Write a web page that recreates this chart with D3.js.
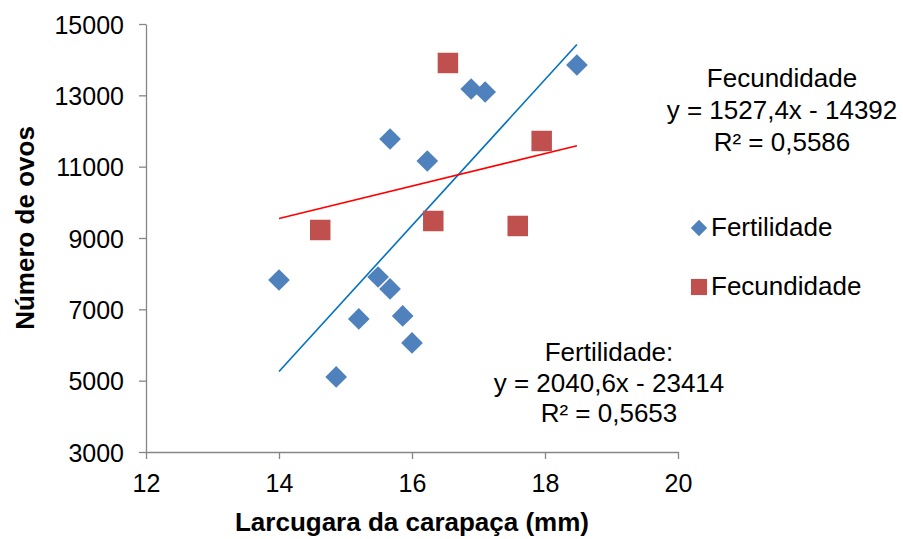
<!DOCTYPE html>
<html>
<head>
<meta charset="utf-8">
<script src="https://cdn.jsdelivr.net/npm/d3@7"></script>
<style>
  body { margin: 0; background: #fff; }
  svg text { font-family: "Liberation Sans", Arial, sans-serif; fill: #000; }
</style>
</head>
<body>
<svg width="903" height="539"></svg>
<script>
// carapace width (mm) and egg counts
const fertX = [14.0, 14.86, 15.2, 15.49, 15.67, 15.67, 15.86, 16.0, 16.23, 16.89, 17.1, 18.48];
const fertY = [7823, 5104, 6730, 7907, 7571, 11776, 6814, 6057, 11159, 13178, 13094, 13850];
const fecX = [14.62, 16.54, 16.32, 17.59, 17.95];
const fecY = [9225, 13907, 9477, 9337, 11720];

const xTicks = [12, 14, 16, 18, 20];
const yTicks = [3000, 5000, 7000, 9000, 11000, 13000, 15000];

const fecLabel = ['Fecundidade', 'y = 1527,4x - 14392', 'R² = 0,5586'];
const fertLabel = ['Fertilidade:', 'y = 2040,6x - 23414', 'R² = 0,5653'];

const svg = d3.select('svg'),
    margin = {top: 24, right: 225, bottom: 87, left: 146},
    width = +svg.attr('width'),
    height = +svg.attr('height');

const x = d3.scaleLinear().domain([12, 20]).range([margin.left, width - margin.right]);
const y = d3.scaleLinear().domain([3000, 15000]).range([height - margin.bottom, margin.top]);

const axisColor = '#868686';

// axes
const gx = svg.append('g')
    .attr('transform', 'translate(0,' + y(3000) + ')')
    .call(d3.axisBottom(x).tickValues(xTicks).tickSize(7).tickPadding(15).tickSizeOuter(0));
const gy = svg.append('g')
    .attr('transform', 'translate(' + x(12) + ',0)')
    .call(d3.axisLeft(y).tickValues(yTicks).tickSize(7).tickPadding(15).tickSizeOuter(0).tickFormat(d3.format('d')));

[gx, gy].forEach(function (g) {
    g.select('.domain').attr('stroke', axisColor).attr('stroke-width', 1.3);
    g.selectAll('.tick line').attr('stroke', axisColor).attr('stroke-width', 1.3);
    g.selectAll('.tick text')
        .style('font-size', '25px')
        .style('font-family', '"Liberation Sans", Arial, sans-serif')
        .attr('fill', '#000');
});
gy.selectAll('.tick text').attr('dy', '0.36em');

// axis titles
svg.append('text')
    .attr('x', (x(12) + x(20)) / 2)
    .attr('y', 531)
    .attr('text-anchor', 'middle')
    .style('font-size', '26px')
    .style('font-weight', 'bold')
    .text('Larcugara da carapaça (mm)');

svg.append('text')
    .attr('transform', 'translate(34,228) rotate(-90)')
    .attr('text-anchor', 'middle')
    .style('font-size', '26px')
    .style('font-weight', 'bold')
    .text('Número de ovos');

// least squares fit over the full x extent of the data
function fit(xs, ys) {
    const mx = d3.mean(xs), my = d3.mean(ys);
    let sxy = 0, sxx = 0;
    xs.forEach(function (v, i) {
        sxy += (v - mx) * (ys[i] - my);
        sxx += (v - mx) * (v - mx);
    });
    const b = sxy / sxx;
    return {b: b, a: my - b * mx};
}

const ext = d3.extent(fertX.concat(fecX));
const line = d3.line().x(function (d) { return x(d[0]); }).y(function (d) { return y(d[1]); });

[[fertX, fertY, '#0070C0'], [fecX, fecY, '#FF0000']].forEach(function (s) {
    const f = fit(s[0], s[1]);
    svg.append('path')
        .datum(ext.map(function (v) { return [v, f.a + f.b * v]; }))
        .attr('d', line)
        .attr('fill', 'none')
        .attr('stroke', s[2])
        .attr('stroke-width', 1.6);
});

// markers
const diamond = d3.symbol().type(d3.symbolDiamond2).size(300);
const square = d3.symbol().type(d3.symbolSquare).size(420);

svg.append('g').selectAll('path')
    .data(fecX.map(function (v, i) { return [v, fecY[i]]; }))
    .enter().append('path')
    .attr('d', square)
    .attr('transform', function (d) { return 'translate(' + x(d[0]) + ',' + y(d[1]) + ')'; })
    .attr('fill', '#C0504D');

svg.append('g').selectAll('path')
    .data(fertX.map(function (v, i) { return [v, fertY[i]]; }))
    .enter().append('path')
    .attr('d', diamond)
    .attr('transform', function (d) { return 'translate(' + x(d[0]) + ',' + y(d[1]) + ')'; })
    .attr('fill', '#4F81BD');

// legend
const legend = svg.append('g');
legend.append('path').attr('d', d3.symbol().type(d3.symbolDiamond2).size(170))
    .attr('transform', 'translate(699,228)').attr('fill', '#4F81BD');
legend.append('text').attr('x', 711).attr('y', 236).style('font-size', '26px').text('Fertilidade');
legend.append('path').attr('d', d3.symbol().type(d3.symbolSquare).size(260))
    .attr('transform', 'translate(699,287)').attr('fill', '#C0504D');
legend.append('text').attr('x', 711).attr('y', 295).style('font-size', '26px').text('Fecundidade');

// equation labels
function label(lines, cx, cy, step) {
    svg.append('g').selectAll('text')
        .data(lines)
        .enter().append('text')
        .attr('x', cx)
        .attr('y', function (d, i) { return cy + i * step; })
        .attr('text-anchor', 'middle')
        .style('font-size', '26px')
        .text(function (d) { return d; });
}
label(fecLabel, 782, 87, 32);
label(fertLabel, 609, 361, 30.5);
</script>
</body>
</html>
